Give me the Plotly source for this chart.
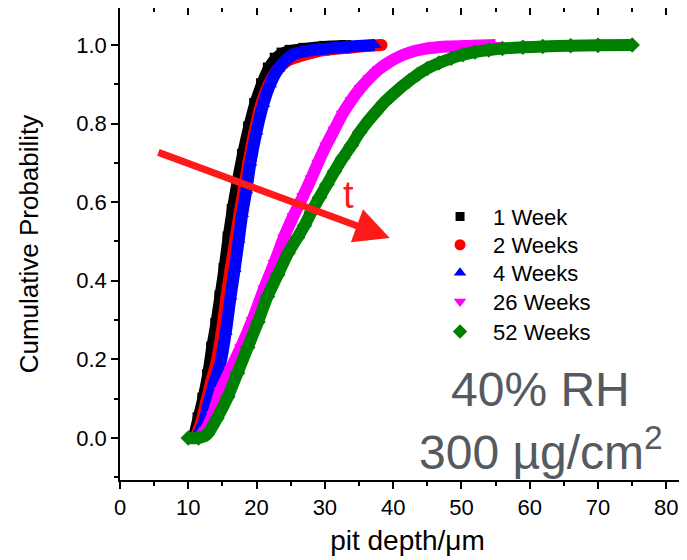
import plotly.graph_objects as go

# ---- data ----
series_names = ["1 Week", "2 Weeks", "4 Weeks", "26 Weeks", "52 Weeks"]

week1_x = [10.8, 11.5, 12.2, 12.9, 13.5, 14.1, 14.7, 15.3, 15.9, 16.5, 17.2, 18.0, 18.9, 19.8, 20.8, 21.8, 22.8, 23.8, 25.0, 27.0, 30.0, 33.0]
week1_y = [0.00, 0.05, 0.10, 0.16, 0.23, 0.29, 0.36, 0.43, 0.51, 0.58, 0.65, 0.72, 0.79, 0.85, 0.90, 0.94, 0.965, 0.978, 0.985, 0.99, 0.995, 0.997]

week2_x = [11.0, 11.9, 12.6, 13.3, 14.1, 14.9, 15.6, 16.2, 16.9, 17.5, 18.1, 18.8, 19.7, 20.7, 21.8, 23.0, 24.5, 26.0, 28.0, 30.5, 33.5, 36.0, 38.3]
week2_y = [0.00, 0.04, 0.09, 0.14, 0.19, 0.27, 0.36, 0.43, 0.505, 0.57, 0.63, 0.70, 0.78, 0.85, 0.90, 0.935, 0.96, 0.97, 0.98, 0.988, 0.993, 0.997, 1.0]

week4_x = [11.3, 12.3, 13.0, 13.8, 14.7, 15.5, 16.2, 16.8, 17.4, 17.9, 18.5, 19.1, 20.0, 21.0, 22.0, 23.2, 24.5, 25.5, 27.5, 30.0, 33.0, 35.5, 37.3]
week4_y = [0.00, 0.04, 0.09, 0.14, 0.19, 0.27, 0.36, 0.43, 0.505, 0.57, 0.63, 0.70, 0.78, 0.85, 0.90, 0.94, 0.965, 0.977, 0.985, 0.99, 0.995, 0.998, 1.0]

week26_x = [11.5, 12.5, 13.6, 14.7, 16.2, 17.7, 19.4, 21.1, 22.6, 24.0, 25.4, 26.8, 28.0, 29.0, 30.2, 31.4, 32.6, 33.9, 35.2, 36.5, 37.9, 39.3, 40.4, 41.5, 43.0, 44.6, 46.5, 48.0, 51.5, 55.0]
week26_y = [0.00, 0.02, 0.06, 0.12, 0.175, 0.23, 0.30, 0.38, 0.445, 0.51, 0.565, 0.615, 0.66, 0.70, 0.745, 0.785, 0.825, 0.86, 0.89, 0.915, 0.938, 0.955, 0.966, 0.975, 0.984, 0.99, 0.994, 0.996, 0.998, 1.0]

week52_x = [10.0, 11.5, 12.8, 14.2, 15.8, 17.2, 18.7, 20.2, 21.6, 23.1, 24.6, 26.0, 27.0, 28.0, 29.2, 30.3, 31.4, 32.6, 33.9, 35.1, 36.4, 37.5, 38.6, 39.7, 40.8, 42.3, 43.6, 45.0, 46.7, 48.5, 50.2, 52.0, 54.0, 56.0, 59.0, 61.9, 66.0, 70.0, 75.0]
week52_y = [0.00, 0.00, 0.01, 0.05, 0.105, 0.165, 0.23, 0.295, 0.36, 0.415, 0.47, 0.51, 0.54, 0.574, 0.612, 0.645, 0.678, 0.712, 0.745, 0.778, 0.808, 0.83, 0.852, 0.87, 0.887, 0.908, 0.925, 0.94, 0.954, 0.966, 0.975, 0.982, 0.987, 0.991, 0.994, 0.996, 0.998, 0.999, 1.0]

x_ticks = [0, 10, 20, 30, 40, 50, 60, 70, 80]
y_ticks = [0.0, 0.2, 0.4, 0.6, 0.8, 1.0]
y_ticktext = ["0.0", "0.2", "0.4", "0.6", "0.8", "1.0"]

colors = ["#000000", "#ff0000", "#0000ff", "#ff00ff", "#008000"]
symbols = ["square", "circle", "triangle-up", "triangle-down", "diamond"]
legend_sizes = [9, 11, 11, 11, 11]
xs = [week1_x, week2_x, week4_x, week26_x, week52_x]
ys = [week1_y, week2_y, week4_y, week26_y, week52_y]

FONT = "Liberation Sans, Arial, sans-serif"

fig = go.Figure()
for name, x, y, c, s in zip(series_names, xs, ys, colors, symbols):
    fig.add_trace(go.Scatter(
        x=x, y=y, mode="lines+markers", name=name, showlegend=False,
        line=dict(color=c, width=12, shape="spline", smoothing=0.6),
        marker=dict(symbol=s, color=c, size=12),
        hoverinfo="skip",
    ))

# legend entries (markers only), one legend box per row for exact spacing
legend_ids = ["legend", "legend2", "legend3", "legend4", "legend5"]
legend_rows_y = [0.558, 0.498, 0.4386, 0.3778, 0.3142]
for name, c, s, sz, lid in zip(series_names, colors, symbols, legend_sizes, legend_ids):
    fig.add_trace(go.Scatter(
        x=[None], y=[None], mode="markers", name=name, legend=lid,
        marker=dict(symbol=s, color=c, size=sz),
    ))

# invisible trace to activate top axis
fig.add_trace(go.Scatter(x=[None], y=[None], xaxis="x2", showlegend=False))

legend_common = dict(x=0.534, xanchor="left", yanchor="middle",
                     bgcolor="rgba(0,0,0,0)", font=dict(size=22, color="black", family=FONT),
                     itemwidth=56, tracegroupgap=0)
legend_layout = {lid: dict(legend_common, y=yv) for lid, yv in zip(legend_ids, legend_rows_y)}

fig.update_layout(
    width=687, height=560,
    margin=dict(l=112, r=0, t=0, b=88),
    paper_bgcolor="white", plot_bgcolor="white",
    font=dict(family=FONT, color="black", size=21),
    showlegend=True,
    **legend_layout,
    xaxis=dict(range=[0, 84.2], tickvals=x_ticks, ticks="outside", ticklen=7,
               tickwidth=1.5, tickcolor="black", automargin=False,
               showline=True, linecolor="black", linewidth=1.5, mirror=True,
               showgrid=False, zeroline=False,
               minor=dict(dtick=5, tick0=0, ticks="outside", ticklen=4, tickwidth=1.5, tickcolor="black", showgrid=False),
               tickfont=dict(size=22),
               title=dict(text="pit depth/μm", font=dict(size=28), standoff=11)),
    xaxis2=dict(range=[0, 84.2], overlaying="x", side="top", tickvals=x_ticks,
                ticks="inside", ticklen=7, tickwidth=1.5, tickcolor="black", automargin=False,
                showticklabels=False, showgrid=False, zeroline=False, showline=False,
                minor=dict(dtick=5, tick0=0, ticks="inside", ticklen=4, tickwidth=1.5, tickcolor="black", showgrid=False)),
    yaxis=dict(range=[-0.107, 1.094], tickvals=y_ticks, ticktext=y_ticktext,
               ticks="outside", ticklen=7, tickwidth=1.5, tickcolor="black", automargin=False,
               showline=True, linecolor="black", linewidth=1.5, mirror=False,
               showgrid=False, zeroline=False,
               minor=dict(dtick=0.1, tick0=0, ticks="outside", ticklen=4, tickwidth=1.5, tickcolor="black", showgrid=False),
               tickfont=dict(size=22),
               title=dict(text="Cumulative Probability", font=dict(size=26), standoff=30)),
)

# red arrow with "t"
fig.add_annotation(x=39.5, y=0.509, ax=5.4, ay=0.728, xref="x", yref="y", axref="x", ayref="y",
                   showarrow=True, arrowhead=2, arrowsize=1.0, arrowwidth=7, arrowcolor="#ff1a1a", text="")
fig.add_annotation(x=33.4, y=0.618, xref="x", yref="y", text="t", showarrow=False,
                   font=dict(size=38, color="#ff1a1a", family=FONT))

# condition labels
fig.add_annotation(x=0.732, y=0.191, xref="paper", yref="paper", xanchor="center", yanchor="middle",
                   text="40% RH", showarrow=False,
                   font=dict(size=48, color="#555a60", family=FONT))
fig.add_annotation(x=0.732, y=0.065, xref="paper", yref="paper", xanchor="center", yanchor="middle",
                   text="300 µg/cm<sup>2</sup>", showarrow=False,
                   font=dict(size=48, color="#555a60", family=FONT))

fig.write_html("out.html")
